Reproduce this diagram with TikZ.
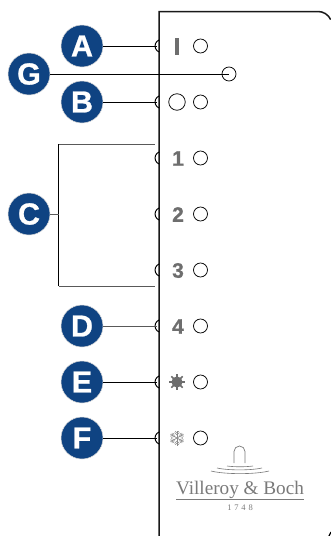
\documentclass[tikz,border=0pt]{standalone}
\usepackage{fontspec}
\setmainfont{Liberation Sans}
\newfontfamily\logofont{Liberation Serif}
\newfontfamily\heavy[UprightFont=* Bold,FakeBold=0.8]{Liberation Sans}
\definecolor{vbblue}{HTML}{0F4382}
\definecolor{symgray}{HTML}{6E6E6E}
\definecolor{loggray}{HTML}{7A7A7A}
\tikzset{
  callout/.style={circle,fill=vbblue,draw=black!15,line width=0.5pt,minimum size=42pt,inner sep=0pt,text=white,font=\fontsize{30.5}{30.5}\selectfont\heavy},
  led/.style={circle,draw=black,line width=0.75pt,minimum size=14pt,inner sep=0pt,fill=white},
  lbl/.style={text=symgray,font=\fontsize{21}{21}\selectfont\heavy,inner sep=0pt},
  wire/.style={draw=black,line width=0.8pt},
  graywire/.style={draw=black!65,line width=1pt},
  btn/.style={draw=black,line width=1pt},
}
\begin{document}
\begin{tikzpicture}[x=1pt,y=-1pt]
\useasboundingbox (0,0) rectangle (331,536);
\fill[white] (0,0) rectangle (331,536);
% panel outline
\draw[line width=1.5pt,black!90] (159,536) -- (159,11.5) -- (318,11.5) arc[start angle=-90,end angle=-25,radius=14];
\draw[line width=1.2pt,black] (329,536) -- (331,532);
% callouts
\node[callout] (A) at (82,46) {A};
\node[callout] (G) at (29,74) {G};
\node[callout] (B) at (82,102) {B};
\node[callout] (C) at (29,214) {C};
\node[callout] (D) at (82,326) {D};
\node[callout] (E) at (82,382) {E};
\node[callout] (F) at (82,438) {F};
% buttons
\foreach \n/\y in {a/46,b/102,o/158,t/214,h/270,d/326,e/382,f/438}{
  \coordinate (btn\n) at (157,\y);
  \draw[btn] (159,\y-6) arc[start angle=-113,end angle=-247,radius=6.5];
}
% leds
\node[led] (ledG) at (229,74) {};
\foreach \n/\y in {a/46,b/102,o/158,t/214,h/270,d/326,e/382,f/438}{
  \node[led] (led\n) at (200.5,\y) {};
}
\node[led,minimum size=16.5pt] (ring) at (177,102) {};
% connectors
\draw[wire] (A) -- (btna);
\draw[wire] (G) -- (ledG.center);
\draw[wire] (B) -- (btnb);
\draw[graywire] (D) -- (btnd);
\draw[wire] (E) -- (btne);
\draw[wire] (F) -- (btnf);
\coordinate (brT) at (155,144);
\coordinate (brB) at (155,286);
\coordinate (brTc) at (58.5,144);
\coordinate (brBc) at (58.5,286);
\coordinate (brM) at (58.5,214);
\draw[graywire] (brTc) -- (brT);
\draw[graywire] (brBc) -- (brB);
\draw[wire] (brTc) -- (brBc);
\draw[graywire] (C) -- (brM);
% labels
\fill[symgray] (175.3,38) rectangle (178.7,55);
\node[lbl] (l1) at (178,158.5) {1};
\node[lbl] (l2) at (178,214.5) {2};
\node[lbl] (l3) at (178,270.5) {3};
\node[lbl] (l4) at (178,326.5) {4};
% sun
\fill[symgray] (177,382) circle (5.6);
\foreach \a in {0,45,...,315}{
  \draw[symgray,line width=1.6pt] (177,382) -- ++(\a:8);
}
% snowflake
\foreach \a in {0,60,120}{
  \draw[black!45,line width=0.7pt] (177,438) ++(\a+30:7.5) -- ++(\a+210:15);
}
\foreach \a in {30,90,...,330}{
  \draw[black!45,line width=0.6pt] (177,438) ++(\a:3) -- ++(\a+45:3.4);
  \draw[black!45,line width=0.6pt] (177,438) ++(\a:3) -- ++(\a-45:3.4);
  \draw[black!45,line width=0.6pt] (177,438) ++(\a:5) -- ++(\a+45:2.6);
  \draw[black!45,line width=0.6pt] (177,438) ++(\a:5) -- ++(\a-45:2.6);
}
% logo
\draw[loggray,line width=0.7pt] (234,463) -- (234,451.5) arc[start angle=180,end angle=360,radius=5.5] -- (245,463);
\draw[loggray,line width=0.6pt] (227,466) .. controls (234,467) and (246,467) .. (253,466);
\draw[loggray,line width=0.6pt] (217,468) .. controls (228,470.5) and (251,470.5) .. (262,468);
\draw[loggray,line width=0.6pt] (211,471) .. controls (225,474.5) and (255,474.5) .. (269,471);
\node[text=loggray,font=\logofont\fontsize{19.2}{19.2}\selectfont,inner sep=0pt] (brand) at (240,490) {Villeroy \& Boch};
\draw[loggray,line width=0.6pt] (176,499) -- (304,499);
\node[text=loggray,font=\logofont\fontsize{8.5}{8.5}\selectfont,inner sep=0pt] (year) at (240,508) {1\,\,7\,\,4\,\,8};
\end{tikzpicture}
\end{document}
